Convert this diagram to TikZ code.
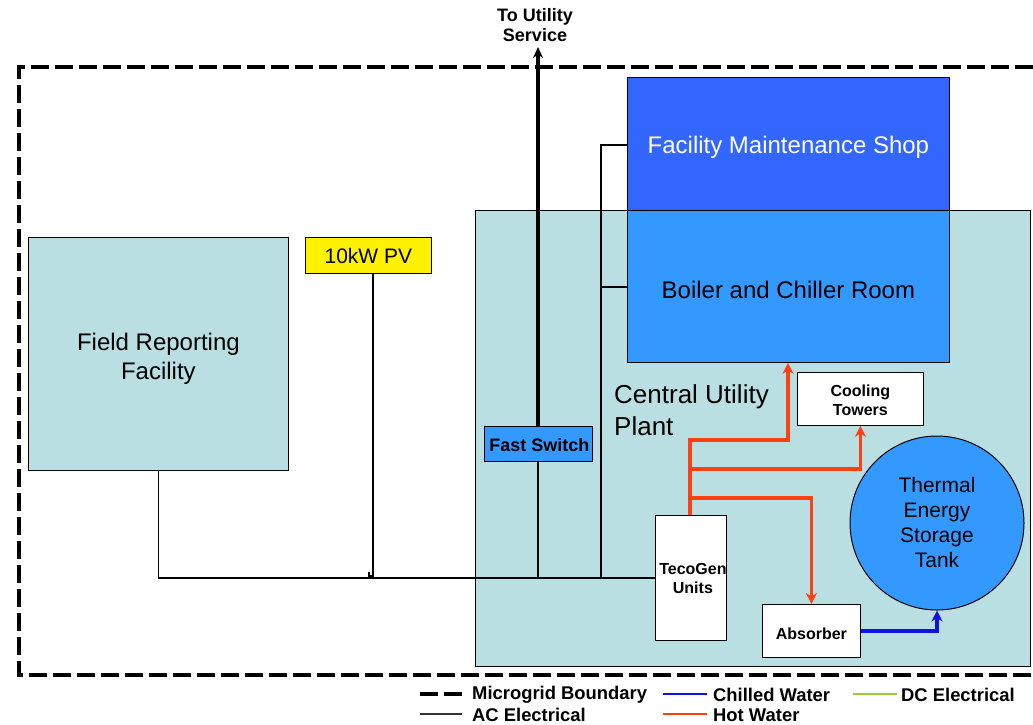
\documentclass[tikz,border=0pt]{standalone}
\usepackage{fontspec}
\setmainfont{Liberation Sans}
\usetikzlibrary{arrows.meta}
\definecolor{cup}{HTML}{BADFE2}
\definecolor{shopblue}{HTML}{3366FF}
\definecolor{roomblue}{HTML}{3399FF}
\definecolor{hotred}{HTML}{FF4010}
\definecolor{chillblue}{HTML}{1010E8}
\definecolor{dcgreen}{HTML}{99CC33}
\tikzset{
  box/.style={draw=black, line width=0.8pt, inner sep=0pt, anchor=north west},
  big/.style={font=\fontsize{24}{29}\selectfont, align=center},
  mid/.style={font=\fontsize{21}{25}\selectfont, align=center},
  bsmall/.style={font=\bfseries\fontsize{16}{19}\selectfont, align=center},
  blabel/.style={font=\bfseries\fontsize{18}{20}\selectfont, align=center},
  acline/.style={draw=black, line width=1.2pt},
  hot/.style={draw=hotred, line width=3.6pt, -{Stealth[length=11pt,width=11pt]}},
  chill/.style={draw=chillblue, line width=3.6pt, -{Stealth[length=11pt,width=11pt]}},
  boundary/.style={draw=black, line width=4pt, dash pattern=on 18pt off 6pt},
  legtext/.style={font=\bfseries\fontsize{18.4}{20}\selectfont, anchor=west, inner sep=0pt}
}
\begin{document}
\begin{tikzpicture}[x=1pt,y=-1pt]
\useasboundingbox (0,0) rectangle (1033,724);
% boundary
\draw[boundary] (1033,67) -- (19,67) -- (19,675) -- (1033,675);
% central utility plant
\node[box, fill=cup, minimum width=555pt, minimum height=456pt] (cup) at (475,210) {};
\node[anchor=north west, align=left, inner sep=0pt, font=\fontsize{26}{32}\selectfont] (cuptext) at (614,384) {Central Utility\\Plant};
% shop and room
\node[box, fill=shopblue, minimum width=322pt, minimum height=133pt] (shop) at (627,77) {};
\node[big, text=white] (shoptext) at ([yshift=-3pt]shop.center) {Facility Maintenance Shop};
\node[box, fill=roomblue, minimum width=322pt, minimum height=152pt] (room) at (627,210) {};
\node[big] (roomtext) at ([yshift=-4pt]room.center) {Boiler and Chiller Room};
% field reporting
\node[box, fill=cup, minimum width=260pt, minimum height=233pt] (frf) at (28,237) {};
\node[big] (frftext) at ([yshift=-5pt]frf.center) {Field Reporting\\Facility};
% PV
\node[box, fill=yellow, minimum width=126pt, minimum height=36pt] (pv) at (305,237) {};
\node[mid] (pvtext) at ([yshift=-1pt]pv.center) {10kW PV};
% fast switch
\node[box, fill=roomblue, minimum width=108pt, minimum height=35pt] (fs) at (484,426) {};
\node[blabel] (fstext) at ([xshift=1pt,yshift=-1pt]fs.center) {Fast Switch};
% cooling towers
\node[box, fill=white, minimum width=126pt, minimum height=53pt] (ct) at (797,372) {};
\node[bsmall] (cttext) at ([yshift=-1pt]ct.center) {Cooling\\Towers};
% tecogen
\node[box, fill=white, minimum width=71pt, minimum height=125pt] (teco) at (655,515) {};
\node[bsmall] (tecotext) at ([xshift=2pt,yshift=-1pt]teco.center) {TecoGen\\Units};
% absorber
\node[box, fill=white, minimum width=98pt, minimum height=53pt] (abs) at (762,604) {};
\node[bsmall] (abstext) at ([yshift=-3pt]abs.center) {Absorber};
% tank
\node[draw=black, line width=1pt, fill=roomblue, circle, minimum size=174pt, inner sep=0pt] (tank) at (937,523) {};
\node[mid] (tanktext) at ([yshift=1pt]tank.center) {Thermal\\Energy\\Storage\\Tank};
% utility
\node[blabel, inner sep=0pt] (util) at (535,25) {To Utility\\Service};
\coordinate (utiltip) at (538,47);
\draw[draw=black, line width=3.5pt, -{Stealth[length=11pt,width=10pt]}] (fs.north -| utiltip) -- (utiltip);
% AC electrical
\coordinate (fsbot) at (538,577);
\draw[acline] (fs.south -| fsbot) -- (fsbot);
\draw[acline] (frf.south) |- (teco.west);
\coordinate (pvtop) at (373,273);
\draw[acline] (pvtop) -- (373,576) -- (369,576) -- (369,572);
\coordinate (busx) at (601,577);
\draw[acline] (shop.west |- 0,145) -- (601,145) -- (busx);
\draw[acline] (room.west |- 0,287) -- (601,287);
% hot water
\draw[hot] (teco.north -| 690,0) |- (788,440) -- (room.south -| 788,0);
\draw[hot] (690,469) -| (ct.south);
\draw[hot] (690,498) -| (abs.north);
% chilled water
\draw[chill] (abs.east) -| (tank.south);
% legend
\draw[line width=4pt, dash pattern=on 18pt off 6pt] (420,694) -- (462,694);
\node[legtext] (l1) at (472,695) {Microgrid Boundary};
\draw[chillblue, line width=1.2pt] (663,694) -- (707,694);
\node[legtext] (l2) at (713,695) {Chilled Water};
\draw[dcgreen, line width=1.2pt] (853,694) -- (897,694);
\node[legtext] (l3) at (901,695) {DC Electrical};
\draw[black!80, line width=1.2pt] (420,714) -- (462,714);
\node[legtext] (l4) at (472,715) {AC Electrical};
\draw[hotred, line width=1.2pt] (663,714) -- (707,714);
\node[legtext] (l5) at (713,715) {Hot Water};
\end{tikzpicture}
\end{document}
